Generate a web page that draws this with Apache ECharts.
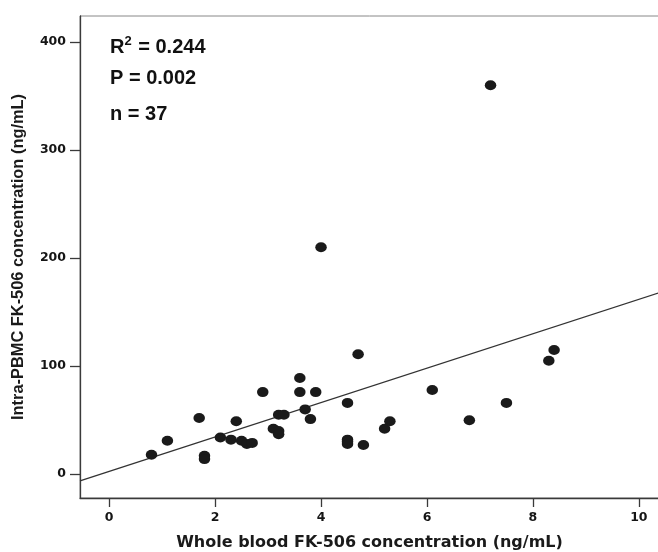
<!DOCTYPE html>
<html><head><meta charset="utf-8">
<script src="https://cdn.jsdelivr.net/npm/echarts@6/dist/echarts.min.js"></script>
<style>html,body{margin:0;padding:0;background:#fff}#c{width:658px;height:552px}</style>
</head><body><div id="c"></div>
<script>
// Whole blood FK-506 concentration (ng/mL)
const bloodConc = [0.8, 1.1, 1.7, 1.8, 1.8, 2.1, 2.3, 2.4, 2.5, 2.6, 2.7, 2.9,
  3.1, 3.2, 3.2, 3.2, 3.3, 3.6, 3.6, 3.7, 3.8, 3.9, 4.0, 4.5, 4.5, 4.5, 4.5,
  4.7, 4.8, 5.2, 5.3, 6.1, 6.8, 7.2, 7.5, 8.3, 8.4];
// Intra-PBMC FK-506 concentration (ng/mL)
const pbmcConc = [18, 31, 52, 17, 14, 34, 32, 49, 31, 28, 29, 76,
  42, 40, 37, 55, 55, 89, 76, 60, 51, 76, 210, 66, 32, 30, 28,
  111, 27, 42, 49, 78, 50, 360, 66, 105, 115];
const xTicks = [0, 2, 4, 6, 8, 10];
const yTicks = [0, 100, 200, 300, 400];
// regression line end points
const regX = [-0.55, 10.4];
const regY = [-6.2, 168.2];
const statLabels = ['{a|R}{s|2}{a| = 0.244}', '{a|P = 0.002}', '{a|n = 37}'];

const points = bloodConc.map((x, i) => [x, pbmcConc[i]]);
const chart = echarts.init(document.getElementById('c'), null, {renderer: 'canvas'});
const labelFont = {fontFamily: 'DejaVu Sans', fontWeight: 'bold', fontSize: 12.5, color: '#151515'};
chart.setOption({
  animation: false,
  backgroundColor: '#fff',
  grid: {left: 80, top: 16, right: -1, bottom: 54, show: true, borderColor: '#888', borderWidth: 1,
    containLabel: false, outerBoundsMode: 'none'},
  xAxis: {
    type: 'value', min: -0.55, max: 10.38,
    name: 'Whole blood FK-506 concentration (ng/mL)', nameLocation: 'middle', nameGap: 37,
    nameTextStyle: {fontFamily: 'DejaVu Sans', fontWeight: 'bold', fontSize: 16, color: '#1a1a1a'},
    axisLine: {show: true, onZero: false, lineStyle: {color: '#3a3a3a', width: 1.3}},
    axisTick: {show: true, length: 9, customValues: xTicks, lineStyle: {color: '#3a3a3a', width: 1.3}},
    axisLabel: Object.assign({customValues: xTicks, margin: 13}, labelFont),
    splitLine: {show: false}
  },
  yAxis: {
    type: 'value', min: -22, max: 424,
    name: 'Intra-PBMC FK-506 concentration (ng/mL)', nameLocation: 'middle', nameGap: 54,
    nameTextStyle: {fontFamily: 'Liberation Sans', fontWeight: 'bold', fontSize: 16.4, color: '#1a1a1a'},
    axisLine: {show: true, onZero: false, lineStyle: {color: '#3a3a3a', width: 1.3}},
    axisTick: {show: true, length: 10, customValues: yTicks, lineStyle: {color: '#3a3a3a', width: 1.3}},
    axisLabel: Object.assign({customValues: yTicks, margin: 14}, labelFont),
    splitLine: {show: false}
  },
  series: [
    {
      type: 'line', data: [[regX[0], regY[0]], [regX[1], regY[1]]],
      symbol: 'none', lineStyle: {color: '#333', width: 1.4}, silent: true, z: 1
    },
    {
      type: 'scatter', data: points, symbol: 'circle', symbolSize: [11.5, 10],
      itemStyle: {color: '#1a1a1a', opacity: 1}, z: 2
    }
  ],
  graphic: statLabels.map((t, i) => ({
    type: 'text', left: 110, top: [35, 68, 104][i],
    style: {
      text: t,
      rich: {
        a: {fontFamily: 'Liberation Sans', fontWeight: 'bold', fontSize: 20, fill: '#111', lineHeight: 24},
        s: {fontFamily: 'Liberation Sans', fontWeight: 'bold', fontSize: 13, fill: '#111', verticalAlign: 'top', lineHeight: 24, padding: [0, 1, 0, 0]}
      }
    }
  }))
});
</script></body></html>
